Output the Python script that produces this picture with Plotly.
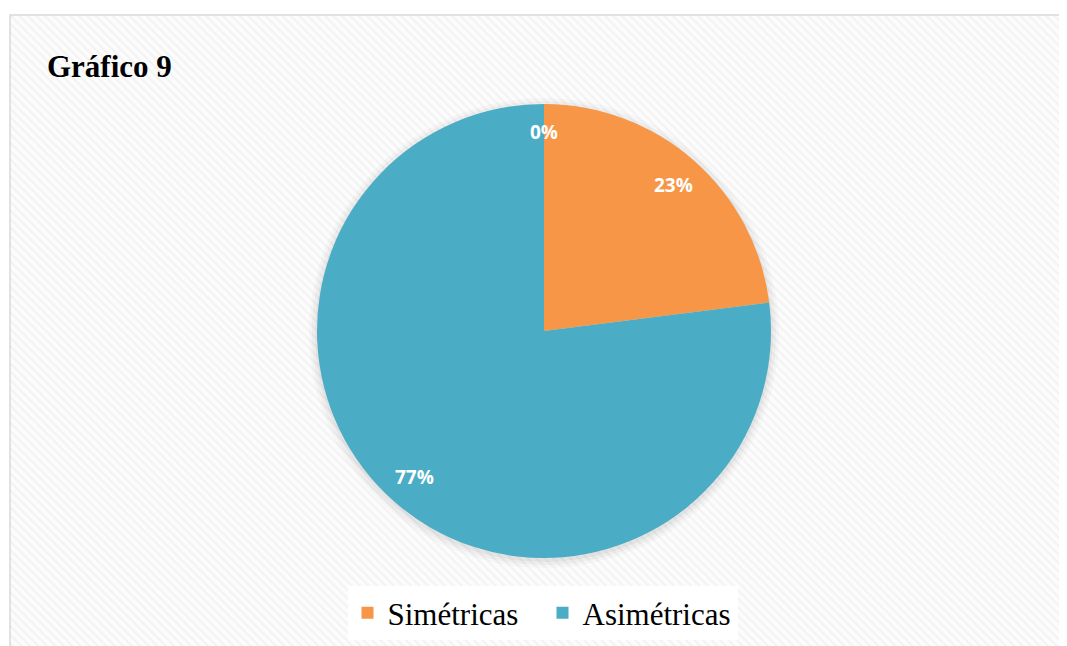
import math
import plotly.graph_objects as go

categories = ["Simétricas", "Asimétricas"]
values = [23, 77]
extra_label_value = 0          # unnamed third slice shown only as "0%"
colors = ["#F79646", "#4BACC6"]
title_text = "Gráfico 9"

W, H = 1067, 646
ML, MT = 2, 7
PW, PH = W - ML, H - MT

CX, CY, R = 536, 323, 227


def px(x):
    return (x - ML) / PW


def py(y):
    return (H - y) / PH


dom_x = [px(CX - R), px(CX + R)]
dom_y = [py(CY + R), py(CY - R)]

fig = go.Figure()

# striped background of the chart area
fig.add_trace(go.Scatter(
    x=[0, 1, 1, 0, 0], y=[0, 0, 1, 1, 0], mode="lines", fill="toself",
    line=dict(width=0), fillcolor="#fbfbfb",
    fillpattern=dict(shape="\\", bgcolor="#fcfcfc", fgcolor="#eaeaea", size=6, solidity=0.35),
    hoverinfo="skip", showlegend=False,
))

# soft shadow rings behind the pie
for grow, alpha in [(9, 0.025), (6, 0.03), (3, 0.04)]:
    fig.add_trace(go.Pie(
        values=[1], labels=["_s%d" % grow], showlegend=False, textinfo="none",
        marker=dict(colors=["rgba(0,0,0,%s)" % alpha], line=dict(width=0)),
        domain=dict(x=[px(CX - R - grow + 1), px(CX + R + grow - 1)],
                    y=[py(CY + R + grow + 1), py(CY - R - grow + 3)]),
        hoverinfo="skip", sort=False,
    ))

fig.add_trace(go.Pie(
    labels=categories,
    values=values,
    marker=dict(colors=colors, line=dict(width=0)),
    sort=False,
    direction="clockwise",
    rotation=0,
    textinfo="none",
    domain=dict(x=dom_x, y=dom_y),
))

# data labels placed at "inside end" like the original
total = sum(values) + extra_label_value
all_vals = values + [extra_label_value]
annotations = []
cum = 0
for v in all_vals:
    mid = (cum + v / 2) / total * 2 * math.pi
    cum += v
    rr = R * (0.86 if v > 0 else 0.875)
    x = CX + rr * math.sin(mid)
    y = CY - rr * math.cos(mid)
    annotations.append(dict(
        text="<b>%d%%</b>" % round(100 * v / total), x=px(x), y=py(y), xref="paper", yref="paper",
        xanchor="center", yanchor="middle", showarrow=False,
        font=dict(family="Open Sans", size=19, color="white"),
    ))

annotations.append(dict(
    text="<b>" + title_text + "</b>", x=px(37), y=py(58), xref="paper", yref="paper",
    xanchor="left", yanchor="middle", showarrow=False,
    font=dict(family="Liberation Serif", size=31, color="black"),
))

fig.update_layout(
    width=W, height=H,
    margin=dict(l=ML, r=0, t=MT, b=0),
    paper_bgcolor="white",
    plot_bgcolor="rgba(0,0,0,0)",
    xaxis=dict(range=[0, 1], visible=False, domain=[0, 1], fixedrange=True),
    yaxis=dict(range=[0, 1], visible=False, domain=[0, 1], fixedrange=True),
    showlegend=True,
    legend=dict(
        orientation="h", x=0.5, xanchor="center", y=py(605), yanchor="middle",
        font=dict(family="Liberation Serif", size=31, color="black"),
        bgcolor="white", itemwidth=30, entrywidth=150, entrywidthmode="pixels",
    ),
    shapes=[dict(type="rect", xref="paper", yref="paper", x0=0, y0=0, x1=1.01, y1=1,
                 line=dict(color="#d9d9d9", width=1.5), fillcolor="rgba(0,0,0,0)", layer="above")],
    annotations=annotations,
)

fig.write_html("out.html")
